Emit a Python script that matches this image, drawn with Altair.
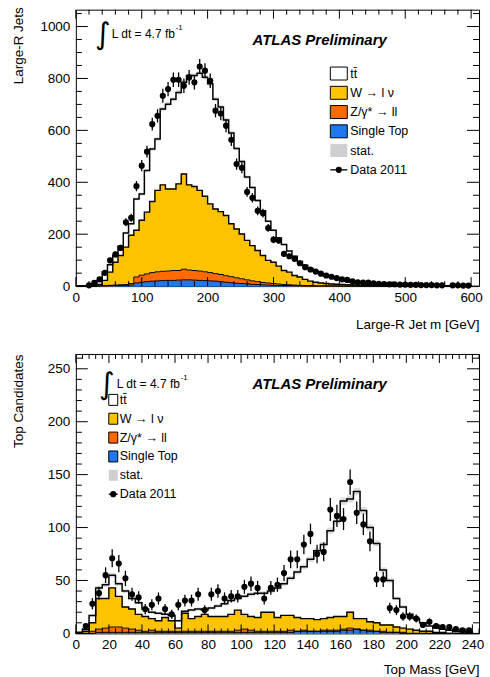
import altair as alt
import numpy as np
import pandas as pd

FONT = "Liberation Sans"
YELLOW = "#FDC300"
ORANGE = "#FF6A00"
BLUE = "#1E78F0"

# ---------------- upper panel: Large-R jet mass, 8 GeV bins from 0 GeV ----------------
mass_bin_width = 8
mass_data = [0, 0, 3, 13, 26, 51, 99, 122, 147, 246,
             263, 385, 464, 518, 624, 656, 733, 759, 795, 795,
             772, 804, 785, 846, 830, 791, 676, 665, 618, 564,
             470, 456, 363, 340, 290, 281, 224, 179, 176, 124,
             115, 105, 88, 73, 64, 56, 48, 41, 36, 31,
             26, 24, 18, 15, 14, 14, 11, 9, 8, 7,
             7, 6, 6, 5, 5, 4, 4, 4, 3, 3,
             0, 3, 3, 2, 2]
# tops of the stacked histograms (Single Top < Z < W < ttbar = total)
mass_total = [0, 0, 3, 9, 22, 54, 82, 118, 154, 205,
              240, 336, 355, 445, 528, 567, 682, 701, 720, 746,
              785, 811, 811, 820, 805, 780, 720, 690, 640, 590,
              530, 480, 420, 380, 330, 290, 250, 215, 185, 160,
              135, 115, 95, 80, 68, 57, 48, 40, 34, 28,
              23, 19, 15, 12, 10, 8, 7, 6, 5, 5,
              4, 4, 3, 3, 3, 2, 2, 2, 2, 1,
              1, 1, 1, 1, 1]
mass_w_top = [0, 0, 0, 2, 6, 22, 54, 92, 118, 150,
              196, 215, 254, 285, 326, 369, 390, 374, 374, 394,
              432, 390, 384, 369, 346, 317, 297, 287, 272, 240,
              220, 201, 176, 156, 137, 118, 99, 92, 77, 60,
              54, 41, 35, 26, 19, 15, 12, 10, 8, 7,
              6, 5, 4, 3, 2, 2, 1, 1, 1, 1,
              1, 1, 0, 0, 0, 0, 0, 0, 0, 0,
              0, 0, 0, 0, 0]
mass_z_top = [0, 0, 0, 0, 1, 2, 3, 4, 5, 6,
              10, 35, 42, 47, 52, 55, 57, 58, 60, 60,
              65, 62, 60, 58, 55, 52, 48, 45, 40, 36,
              32, 28, 24, 20, 17, 14, 12, 10, 8, 6,
              5, 4, 3, 2, 2, 1, 1, 1, 1, 1,
              0, 0, 0, 0, 0, 0, 0, 0, 0, 0,
              0, 0, 0, 0, 0, 0, 0, 0, 0, 0,
              0, 0, 0, 0, 0]
mass_st_top = [0, 0, 0, 0, 0, 1, 1, 2, 2, 3,
               4, 12, 15, 17, 19, 20, 21, 22, 22, 23,
               24, 24, 23, 22, 21, 20, 19, 17, 15, 13,
               11, 10, 9, 7, 6, 5, 4, 3, 3, 2,
               2, 1, 1, 0, 0, 0, 0, 0, 0, 0,
               0, 0, 0, 0, 0, 0, 0, 0, 0, 0,
               0, 0, 0, 0, 0, 0, 0, 0, 0, 0,
               0, 0, 0, 0, 0]

# ---------------- lower panel: top candidate mass, 4 GeV bins from 0 GeV ----------------
top_bin_width = 4
top_data = [0, 7, 28, 38, 55, 71, 66, 52, 37, 34,
            23, 27, 33, 23, 18, 27, 31, 31, 37, 22,
            37, 40, 33, 35, 35, 44, 47, 43, 33, 43,
            46, 57, 70, 70, 84, 94, 75, 77, 117, 111,
            108, 143, 114, 103, 87, 51, 51, 24, 22, 16,
            16, 14, 8, 11, 7, 6, 6, 4, 3, 3]
top_total = [1, 4, 17, 43, 46, 55, 47, 40, 33, 29,
             23, 20, 19, 18, 17, 12, 21, 22, 23, 22,
             24, 26, 28, 31, 33, 35, 37, 38, 38, 40,
             43, 47, 52, 58, 63, 70, 78, 84, 97, 106,
             125, 127, 134, 116, 100, 85, 60, 50, 33, 25,
             18, 14, 10, 7, 5, 4, 3, 2, 2, 1]
top_w_top = [0, 2, 10, 33, 33, 43, 35, 25, 23, 18,
             16, 14, 12, 15, 12, 5, 19, 14, 16, 18,
             16, 16, 16, 18, 22, 18, 16, 15, 20, 20,
             15, 17, 17, 15, 14, 14, 13, 14, 15, 16,
             16, 20, 14, 14, 11, 10, 8, 8, 6, 5,
             4, 3, 2, 2, 1, 1, 0, 0, 0, 0]
top_z_top = [0, 0, 2, 4, 5, 6, 6, 5, 4, 3,
             2, 3, 2, 2, 2, 2, 2, 2, 2, 2,
             2, 2, 2, 2, 3, 4, 3, 2, 2, 2,
             2, 2, 3, 2, 3, 2, 2, 3, 3, 3,
             4, 5, 4, 3, 3, 2, 2, 1, 1, 1,
             0, 0, 0, 0, 0, 0, 0, 0, 0, 0]
top_st_top = [0, 0, 0, 1, 1, 1, 1, 1, 1, 1,
              1, 1, 1, 1, 1, 1, 1, 1, 1, 1,
              1, 1, 1, 1, 1, 1, 1, 1, 1, 1,
              1, 1, 1, 2, 2, 2, 2, 2, 2, 2,
              3, 3, 4, 3, 2, 2, 1, 1, 1, 0,
              0, 0, 0, 0, 0, 0, 0, 0, 0, 0]

lumi_text = "L dt = 4.7 fb"
atlas_text = "ATLAS Preliminary"
legend_labels = ["tt\u0304", "W \u2192 l \u03bd", "Z/\u03b3* \u2192 ll", "Single Top", "stat.", "Data 2011"]
legend_fills = ["white", YELLOW, ORANGE, BLUE]

one = pd.DataFrame({"k": [0]})


def step_xy(lo, hi, vals):
    xs, ys = [lo[0]], [0]
    for a, b, v in zip(lo, hi, vals):
        xs += [a, b]
        ys += [v, v]
    xs.append(hi[-1])
    ys.append(0)
    return xs, ys


def text_layer(txt, x, y, size, font=FONT, weight="normal", style="normal",
               align="left", baseline="middle"):
    return alt.Chart(one).mark_text(
        text=txt, font=font, fontSize=size, fontWeight=weight, fontStyle=style,
        align=align, baseline=baseline, color="black"
    ).encode(x=alt.value(x), y=alt.value(y))


def box_layer(x0, x1, y0, y1, fill, stroke=True):
    if stroke:
        m = alt.Chart(one).mark_rect(fill=fill, stroke="black", strokeWidth=1)
    else:
        m = alt.Chart(one).mark_rect(fill=fill)
    return m.encode(x=alt.value(x0), x2=alt.value(x1), y=alt.value(y0), y2=alt.value(y1))


def panel(bw, data, total, wtop, ztop, sttop, width, height, xdom, ydom,
          xmaj, xminor, ymaj, yminor, xtitle, ytitle, xtitle_y, ytitle_y,
          leg, ann):
    n = len(data)
    lo = [i * bw for i in range(n)]
    hi = [v + bw for v in lo]
    df = pd.DataFrame(dict(lo=lo, hi=hi, c=[v + bw / 2 for v in lo], data=data,
                           total=total, w=wtop, z=ztop, st=sttop))
    df["zero"] = 0
    err = np.sqrt(df["data"])
    df["elo"] = df["data"] - err
    df["ehi"] = df["data"] + err
    band = 0.3 * np.sqrt(df["total"])
    df["blo"] = df["total"] - band
    df["bhi"] = df["total"] + band

    # step outlines of the cumulative stack levels
    xs, _ = step_xy(lo, hi, total)
    steps = pd.DataFrame({"x": xs, "o": list(range(len(xs)))})
    for name, vals in [("st", sttop), ("z", ztop), ("w", wtop), ("tot", total)]:
        steps[name] = step_xy(lo, hi, vals)[1]

    xsc = alt.Scale(domain=xdom, nice=False, zero=False)
    ysc = alt.Scale(domain=ydom, nice=False, zero=False)
    xax = alt.Axis(values=xmaj, title=xtitle, titleX=width, titleY=xtitle_y,
                   titleAlign="right", titleBaseline="alphabetic", labelPadding=4,
                   labelFlush=False, labelOverlap=False, format="d")
    yax = alt.Axis(values=ymaj, title=ytitle, titleX=-57, titleY=ytitle_y,
                   titleAngle=270, titleAlign="right", titleBaseline="middle",
                   labelPadding=6, labelFlush=False, labelOverlap=False, format="d")

    def X(f):
        return alt.X(f, type="quantitative", scale=xsc, axis=xax)

    def Y(f):
        return alt.Y(f, type="quantitative", scale=ysc, axis=yax)

    sbase = alt.Chart(steps)
    base = alt.Chart(df)
    layers = []
    for col, y0f, y1f in [(BLUE, "zero", "st"), (ORANGE, "st", "z"), (YELLOW, "z", "w")]:
        layers.append(base.transform_filter(f"datum.{y1f} > datum.{y0f}")
                      .mark_rect(color=col, stroke=col, strokeWidth=1)
                      .encode(x=X("lo"), x2="hi", y=Y(y0f), y2=y1f))
    layers.append(base.transform_filter("datum.total > 0")
                  .mark_rect(color="#8a8a8a", opacity=0.3)
                  .encode(x=X("lo"), x2="hi", y=Y("blo"), y2="bhi"))
    for name, sw in [("st", 1.0), ("z", 1.0), ("w", 1.4), ("tot", 1.5)]:
        layers.append(sbase.mark_line(color="black", strokeWidth=sw)
                      .encode(x=X("x"), y=Y(name), order="o:Q"))
    pts = base.transform_filter("datum.data > 0")
    layers.append(pts.mark_rule(color="black", strokeWidth=1.3).encode(x=X("c"), y=Y("elo"), y2="ehi"))
    layers.append(pts.mark_circle(color="black", size=38, opacity=1).encode(x=X("c"), y=Y("data")))

    # ROOT-style ticks inside the frame, on all four sides
    def xt(vals, L, top):
        y0, y1 = (0, L) if top else (height, height - L)
        return alt.Chart(pd.DataFrame({"v": vals})).mark_rule(color="black", strokeWidth=1).encode(
            x=X("v"), y=alt.value(y0), y2=alt.value(y1))

    def yt(vals, L, right):
        x0, x1 = (width, width - L) if right else (0, L)
        return alt.Chart(pd.DataFrame({"v": vals})).mark_rule(color="black", strokeWidth=1).encode(
            y=Y("v"), x=alt.value(x0), x2=alt.value(x1))

    for top in (False, True):
        layers.append(xt(xmaj, 9, top))
        layers.append(xt(xminor, 5, top))
    for right in (False, True):
        layers.append(yt(ymaj, 12, right))
        layers.append(yt(yminor, 6, right))

    # annotations
    layers.append(text_layer("\u222b", ann["ix"], ann["iy"] + 1, 30, font="DejaVu Sans", align="center"))
    layers.append(text_layer(lumi_text, ann["lx"], ann["iy"], 12))
    layers.append(text_layer("-1", ann["lx"] + 64, ann["iy"] - 6, 8))
    layers.append(text_layer(atlas_text, ann["ax"], ann["ay"], 15, weight="bold", style="italic"))

    # legend
    bx0, bx1, bh, y0, dy, lx = leg["bx0"], leg["bx1"], leg["bh"], leg["y0"], leg["dy"], leg["lx"]
    for i, lab in enumerate(legend_labels):
        yc = y0 + i * dy
        if i < 4:
            layers.append(box_layer(bx0, bx1, yc - bh / 2, yc + bh / 2, legend_fills[i]))
        elif i == 4:
            layers.append(box_layer(bx0, bx1, yc - bh / 2, yc + bh / 2, "#cfcfcf", stroke=False))
        else:
            layers.append(alt.Chart(one).mark_rule(color="black", strokeWidth=1.3).encode(
                x=alt.value(bx0), x2=alt.value(bx1), y=alt.value(yc)))
            layers.append(alt.Chart(one).mark_circle(color="black", size=38, opacity=1).encode(
                x=alt.value((bx0 + bx1) / 2), y=alt.value(yc)))
        layers.append(text_layer(lab, lx, yc, 12.5))

    return alt.layer(*layers).properties(width=width, height=height)


top_panel = panel(
    mass_bin_width, mass_data, mass_total, mass_w_top, mass_z_top, mass_st_top,
    404, 277, [0, 612], [0, 1065],
    list(range(0, 601, 100)), [v for v in range(0, 612, 20) if v % 100],
    list(range(0, 1001, 200)), [v for v in range(0, 1065, 50) if v % 200],
    "Large-R Jet m [GeV]", "Large-R Jets", 42, -3,
    dict(bx0=255, bx1=272, bh=13, y0=64, dy=19.3, lx=275),
    dict(ix=27, iy=24, lx=36, ax=177, ay=30),
)

bottom_panel = panel(
    top_bin_width, top_data, top_total, top_w_top, top_z_top, top_st_top,
    404, 280, [0, 244], [0, 264],
    list(range(0, 241, 20)), [v for v in range(0, 245, 4) if v % 20],
    list(range(0, 251, 50)), [v for v in range(0, 264, 10) if v % 50],
    "Top Mass [GeV]", "Top Candidates", 40, 0,
    dict(bx0=33, bx1=42, bh=11, y0=46, dy=18.9, lx=44),
    dict(ix=31, iy=30, lx=41, ax=177, ay=30),
)

chart = alt.vconcat(top_panel, bottom_panel, spacing=68, bounds="flush").properties(
    padding={"left": 11, "top": 5, "right": 5, "bottom": 0}
).configure_axis(
    labelFont=FONT, titleFont=FONT, labelFontSize=13.5, titleFontSize=13.5,
    labelColor="black", titleColor="black", titleFontWeight="normal",
    grid=False, ticks=False, domain=False
).configure_view(stroke="black", strokeWidth=1)

chart.save("out.html", embed_options={"renderer": "svg", "actions": False})
